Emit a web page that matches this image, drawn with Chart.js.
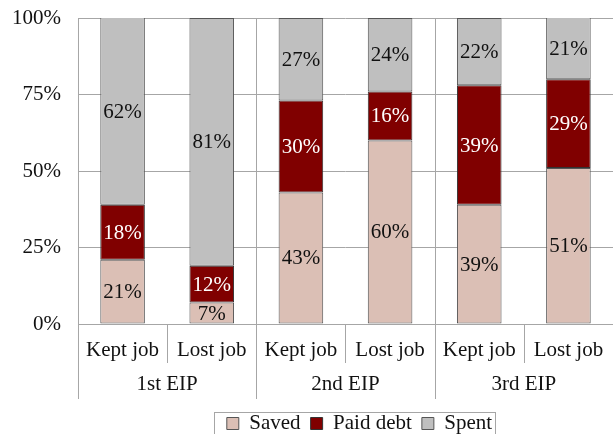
<!DOCTYPE html>
<html>
<head>
<meta charset="utf-8">
<script src="https://cdn.jsdelivr.net/npm/chart.js@4/dist/chart.umd.min.js"></script>
<style>
  html, body { margin: 0; padding: 0; background: #fff; overflow: hidden; }
  #wrap { width: 613px; height: 444px; }
</style>
</head>
<body>
<div id="wrap"><canvas id="eipChart"></canvas></div>
<script>
// categories
const jobLabels = ["Kept job", "Lost job", "Kept job", "Lost job", "Kept job", "Lost job"];
const eipLabels = ["1st EIP", "2nd EIP", "3rd EIP"];
const yTicks = [0, 25, 50, 75, 100];

// shares in percent, one value per bar
const saved    = [21, 7, 43, 60, 39, 51];
const paidDebt = [18, 12, 30, 16, 39, 29];
const spent    = [62, 81, 27, 24, 22, 21];

const FONT = "'Liberation Serif', 'Times New Roman', serif";
const FS = 21;
const GRID = "#a6a6a6";
const NONE = "rgba(0,0,0,0)";

Chart.defaults.font.family = FONT;
Chart.defaults.font.size = FS;
Chart.defaults.color = "#111111";

// labels inside each segment
const segmentLabels = {
  id: "segmentLabels",
  afterDatasetsDraw(chart) {
    const ctx = chart.ctx;
    ctx.save();
    ctx.font = FS + "px " + FONT;
    ctx.textAlign = "center";
    ctx.textBaseline = "middle";
    chart.data.datasets.forEach((ds, i) => {
      chart.getDatasetMeta(i).data.forEach((bar, j) => {
        const top = Math.max(bar.y, chart.chartArea.top);
        ctx.fillStyle = ds.labelColor;
        ctx.fillText(ds.data[j] + "%", bar.x, (top + bar.base) / 2 + 1);
      });
    });
    ctx.restore();
  }
};

// separator lines of the two-level axis and the legend frame
const frameLines = {
  id: "frameLines",
  afterUpdate(chart) {
    // legend sits a little right of the canvas centre
    const lg = chart.legend;
    const shift = 14;
    lg.left += shift;
    lg.right += shift;
    (lg.legendHitBoxes || []).forEach(b => { b.left += shift; });
  },
  afterDraw(chart) {
    const ctx = chart.ctx;
    const area = chart.chartArea;
    const x = chart.scales.x;
    const xTop = chart.scales.x2;
    const mid = (a, b) => (x.getPixelForValue(a) + x.getPixelForValue(b)) / 2;
    ctx.save();
    ctx.strokeStyle = GRID;
    ctx.lineWidth = 1;
    ctx.beginPath();
    ctx.moveTo(area.left + 0.5, area.top);
    ctx.lineTo(area.left + 0.5, xTop.bottom - 4);
    [mid(1, 2), mid(3, 4)].forEach(px => {
      ctx.moveTo(Math.round(px) + 0.5, area.top);
      ctx.lineTo(Math.round(px) + 0.5, xTop.bottom - 4);
    });
    [mid(0, 1), mid(2, 3), mid(4, 5)].forEach(px => {
      ctx.moveTo(Math.round(px) + 0.5, area.bottom);
      ctx.lineTo(Math.round(px) + 0.5, x.bottom - 1);
    });
    ctx.stroke();

    const boxes = chart.legend.legendHitBoxes;
    if (boxes && boxes.length) {
      const l = Math.min(...boxes.map(b => b.left)) - 13;
      const r = Math.max(...boxes.map(b => b.left + b.width)) + 3;
      const t = Math.min(...boxes.map(b => b.top)) - 1;
      ctx.strokeRect(Math.round(l) + 0.5, Math.round(t) + 0.5, Math.round(r - l), 60);
    }
    ctx.restore();
  }
};

new Chart(document.getElementById("eipChart"), {
  type: "bar",
  data: {
    labels: jobLabels,
    datasets: [
      { label: "Saved", data: saved, backgroundColor: "#dbbfb5", borderColor: "#555555", labelColor: "#111111" },
      { label: "Paid debt", data: paidDebt, backgroundColor: "#800000", borderColor: "#333333", labelColor: "#ffffff" },
      { label: "Spent", data: spent, backgroundColor: "#bfbfbf", borderColor: "#555555", labelColor: "#111111" }
    ]
  },
  options: {
    responsive: true,
    maintainAspectRatio: false,
    animation: false,
    layout: { padding: { left: 12, right: 0, top: 18, bottom: 0 } },
    datasets: {
      bar: { categoryPercentage: 1, barPercentage: 0.5, borderWidth: 1, borderSkipped: false }
    },
    plugins: {
      tooltip: { enabled: false },
      legend: {
        position: "bottom",
        fullSize: false,
        labels: {
          font: { family: FONT, size: FS },
          color: "#111111",
          boxWidth: 12,
          boxHeight: 12,
          padding: 10
        }
      }
    },
    scales: {
      x: {
        stacked: true,
        grid: { display: true, drawOnChartArea: false, drawTicks: true, tickLength: 12, color: NONE, tickColor: NONE },
        border: { display: false },
        ticks: { font: { family: FONT, size: FS }, color: "#111111", padding: 1.4, maxRotation: 0 }
      },
      x2: {
        type: "category",
        labels: eipLabels,
        position: "bottom",
        offset: true,
        grid: { display: true, drawOnChartArea: false, drawTicks: true, tickLength: 1, color: NONE, tickColor: NONE },
        border: { display: false },
        ticks: { font: { family: FONT, size: FS }, color: "#111111", padding: 6.4, maxRotation: 0 }
      },
      y: {
        stacked: true,
        min: 0,
        max: 100,
        afterBuildTicks(axis) { axis.ticks = yTicks.map(v => ({ value: v })); },
        grid: { color: GRID, drawTicks: true, tickLength: 17, tickColor: NONE },
        border: { display: false },
        ticks: { font: { family: FONT, size: FS }, color: "#111111", padding: 0, callback: v => v + "%" }
      }
    }
  },
  plugins: [segmentLabels, frameLines]
});
</script>
</body>
</html>
